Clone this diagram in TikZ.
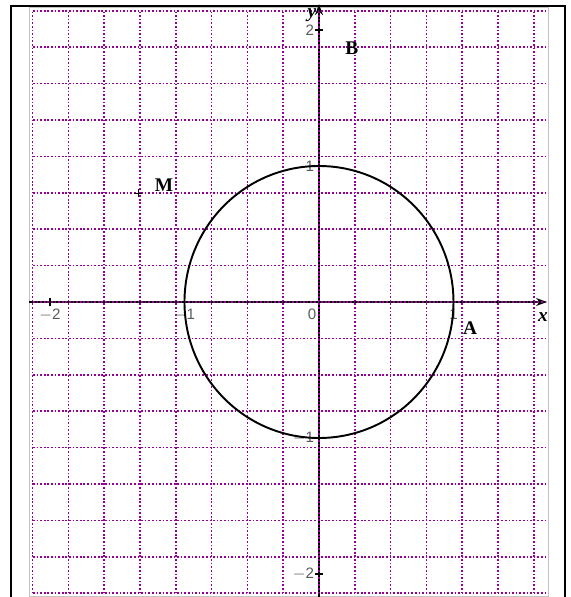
\documentclass[tikz,border=0pt]{standalone}
\usepackage{fontspec}
\usepackage{xcolor}
\usetikzlibrary{arrows.meta}
\newfontfamily\ticksf{Liberation Sans}
\newfontfamily\ptserif{Liberation Serif}
\definecolor{gridline}{RGB}{150,  0,150}
\definecolor{paneline}{RGB}{195,195,195}
\definecolor{ticktext}{RGB}{ 90, 90, 90}
\begin{document}
\begin{tikzpicture}[x=2.69cm,y=2.72cm,
   gridl/.style={gridline,line width=0.95pt,dash pattern=on 0.95pt off 1.1pt},
   axisl/.style={line width=0.75pt,-{Stealth[length=2.2mm,width=1.6mm]}},
   tickl/.style={line width=0.7pt},
   ticklab/.style={font=\ticksf\fontsize{8.6}{9}\selectfont,text=ticktext,inner sep=0pt},
   ptlab/.style={font=\ptserif\fontsize{11}{11}\selectfont\bfseries,inner sep=0pt},
   axlab/.style={font=\ptserif\fontsize{11}{11}\selectfont\bfseries\itshape,inner sep=0pt}]
\useasboundingbox (-2.3717,-2.1691) rectangle (1.8736,2.2206);

% frame and pane
\draw[line width=1.42pt] (-2.290,-2.30) -- (-2.290,2.176) -- (1.829,2.176) -- (1.829,-2.30);
\draw[paneline,line width=0.5pt] (-2.156,-2.165) rectangle (1.7026,2.165);

% axes
\coordinate (xs) at (-2.156,0);
\coordinate (xe) at (1.695,0);
\coordinate (ys) at (0,-2.20);
\coordinate (ye) at (0,2.190);
\draw[axisl] (xs) -- (xe);
\draw[axisl] (ys) -- (ye);

% grid
\foreach \k in {-8,...,6}
  \draw[gridl] (\k*0.2662,-2.141) -- (\k*0.2662,2.141);
\foreach \k in {-8,...,8}
  \draw[gridl] (-2.126,\k*0.2676) -- (1.680,\k*0.2676);

% ticks and their labels
\foreach \t/\lab in {-2/$-$2,-1/$-$1,1/1}{
  \draw[tickl] (\t,-0.03) -- (\t,0.03);
  \node[ticklab,anchor=north] (xt\t) at (\t,-0.05) {\lab};
}
\node[ticklab,anchor=north east] (xt0) at (-0.018,-0.05) {0};
\foreach \t/\lab in {-2/$-$2,-1/$-$1,1/1,2/2}{
  \draw[tickl] (-0.03,\t) -- (0.03,\t);
  \node[ticklab,anchor=east] (yt\t) at (-0.035,\t) {\lab};
}
\node[axlab] (xlab) at (1.665,-0.110) {x};
\node[axlab] (ylab) at (-0.052,2.110) {y};

% unit circle
\draw[line width=1.1pt] (0,0) circle (1);

% points
\coordinate (m) at (-1.3435,0.799);
\draw[line width=0.8pt] ([xshift=-0.08cm]m) -- ([xshift=0.08cm]m)
                        ([yshift=-0.08cm]m) -- ([yshift=0.08cm]m);
\node[ptlab] (labM) at (-1.152,0.860) {M};
\node[ptlab] (labB) at (0.245,1.868) {B};
\node[ptlab] (labA) at (1.123,-0.191) {A};
\end{tikzpicture}
\end{document}
